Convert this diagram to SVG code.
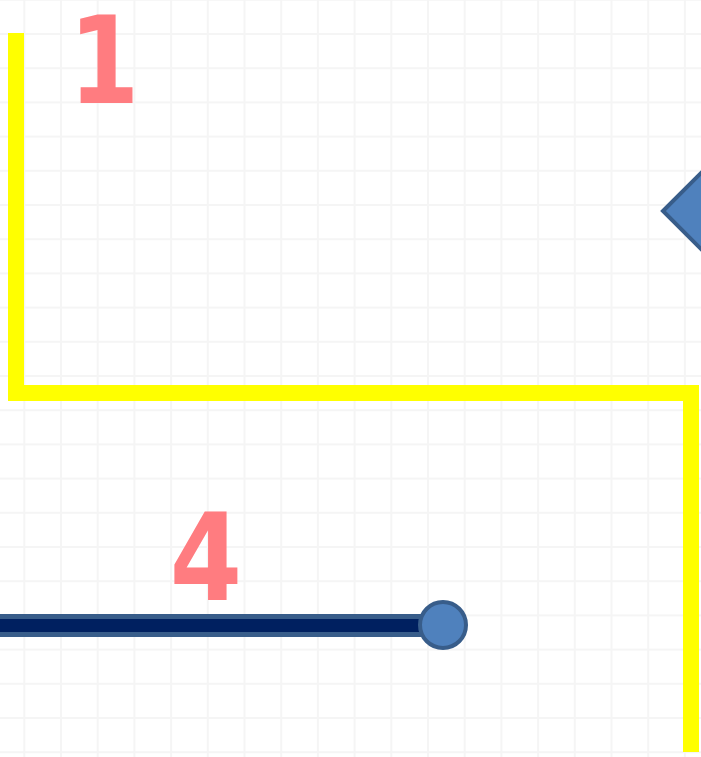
<svg xmlns="http://www.w3.org/2000/svg" width="701" height="757" viewBox="0 0 701 757">
<defs>
<pattern id="grid" patternUnits="userSpaceOnUse" x="23.3" y="-1.2" width="36.7" height="34.2">
<path d="M0.5 0 V34.2 M0 0.5 H36.7" fill="none" stroke="#e8e8e8" stroke-width="3"/>
</pattern>
<style>
.num{font-family:"DejaVu Sans",sans-serif;font-weight:bold;font-size:121px;fill:#FF7C80;text-anchor:middle}
.wire{fill:none;stroke:#FFFF00;stroke-width:16;stroke-linejoin:miter}
</style>
</defs>
<rect width="701" height="757" fill="#ffffff"/>
<rect width="701" height="757" fill="url(#grid)" opacity="0.45"/>
<g id="connectors">
<path class="wire" d="M16 33 V393 H691 V752"/>
<line x1="0" y1="625.5" x2="430" y2="625.5" stroke="#385D8A" stroke-width="23"/>
<line x1="0" y1="625.5" x2="430" y2="625.5" stroke="#002060" stroke-width="13"/>
</g>
<g id="node-circle">
<circle cx="443" cy="625" r="23" fill="#4F81BD" stroke="#385D8A" stroke-width="4"/>
</g>
<g id="node-diamond">
<polygon points="663,211 720,154 777,211 720,268" fill="#4F81BD" stroke="#385D8A" stroke-width="4"/>
</g>
<g id="label-1"><text class="num" transform="translate(104 103) scale(0.84 1)">1</text></g>
<g id="label-4"><text class="num" transform="translate(206 600) scale(0.86 1)">4</text></g>
</svg>
